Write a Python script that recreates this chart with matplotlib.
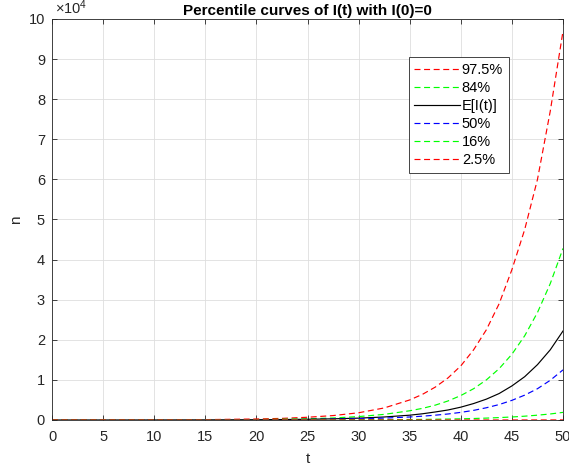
import numpy as np
import matplotlib
matplotlib.use("Agg")
import matplotlib.pyplot as plt
from matplotlib.ticker import FuncFormatter

plt.rcParams['font.family'] = ['Liberation Sans', 'DejaVu Sans']
plt.rcParams['mathtext.default'] = 'regular'
plt.rcParams['lines.scale_dashes'] = False

# Values (units of n)
t = [0, 5, 10, 15, 20, 22.5, 25, 27.5, 30, 32.5, 35, 36.25, 37.5, 38.75, 40,
     41.25, 42.5, 43.75, 45, 46.25, 47.5, 48.75, 50]
p975 = [0, 10, 30, 90, 250, 400, 680, 1100, 1800, 3000, 5000, 6400, 8200, 10500, 13500,
        17500, 22500, 29000, 37500, 47500, 60000, 77000, 97000]
p84 = [0, 5, 15, 40, 110, 180, 300, 500, 850, 1400, 2300, 2900, 3700, 4750, 6100,
       7800, 10000, 12800, 16400, 21000, 26800, 34000, 42800]
mean_I = [0, 3, 10, 30, 70, 110, 180, 290, 460, 750, 1200, 1550, 2000, 2500, 3200,
          4100, 5200, 6600, 8500, 10800, 13800, 17500, 22200]
p50 = [0, 2, 7, 20, 50, 80, 120, 190, 300, 470, 750, 950, 1200, 1500, 1900,
       2400, 3050, 3850, 4900, 6200, 7800, 9900, 12500]
p16 = [0, 0, 0, 2, 8, 12, 20, 30, 50, 80, 120, 150, 190, 240, 300,
       370, 470, 600, 750, 950, 1200, 1500, 1900]
p025 = [0, 0, 0, 0, 0, 0, 0, 0, 0, 0, 0, 0, 0, 0, 0,
        0, 0, 3, 5, 7, 10, 15, 20]

series = [
    ('97.5%', p975, (1, 0, 0), '--'),
    ('84%', p84, (0, 1, 0), '--'),
    ('E[I(t)]', mean_I, (0, 0, 0), '-'),
    ('50%', p50, (0, 0, 1), '--'),
    ('16%', p16, (0, 1, 0), '--'),
    ('2.5%', p025, (1, 0, 0), '--'),
]

fig = plt.figure(figsize=(5.69, 4.71), dpi=100)
ax = fig.add_axes([0.0914, 0.1083, 0.8981, 0.8514])

for name, vals, col, ls in series:
    if ls == '--':
        ax.plot(t, vals, color=col, lw=0.85, ls=(0, (4.3, 2.6)), label=name)
    else:
        ax.plot(t, vals, color=col, lw=0.85, label=name)

ax.set_xlim(0, 50)
ax.set_ylim(0, 1e5)
ax.set_xticks(np.arange(0, 51, 5))
ax.set_yticks(np.arange(0, 1e5 + 1, 1e4))
ax.yaxis.set_major_formatter(FuncFormatter(lambda v, p: f'{v / 1e4:g}'))

ax.grid(True, color='#dedede', lw=0.6)
ax.set_axisbelow(True)
for s in ax.spines.values():
    s.set_color('#262626')
    s.set_linewidth(0.6)
ax.tick_params(direction='in', length=3.6, width=0.6, colors='#262626',
               labelsize=10.5, top=True, right=True)
ax.tick_params(axis='x', pad=7)
ax.tick_params(axis='y', pad=5)

ax.set_xlabel('t', fontsize=11, color='#262626', labelpad=6)
ax.set_ylabel('n', fontsize=11, color='#262626', labelpad=4)
ax.set_title('Percentile curves of I(t) with I(0)=0', fontsize=11,
             fontweight='bold', pad=3)
ax.text(0.006, 1.004, r'$\times10^{4}$', transform=ax.transAxes,
        fontsize=10.5, color='#262626', va='bottom', ha='left')

leg = ax.legend(loc='upper right', bbox_to_anchor=(0.894, 0.905),
                fontsize=10.5, handlelength=3.1, handletextpad=0.15,
                labelspacing=0.28, borderpad=0.4, borderaxespad=0,
                fancybox=False, framealpha=1, edgecolor='#262626')
leg.get_frame().set_linewidth(0.6)

fig.savefig('out.png', dpi=100)
